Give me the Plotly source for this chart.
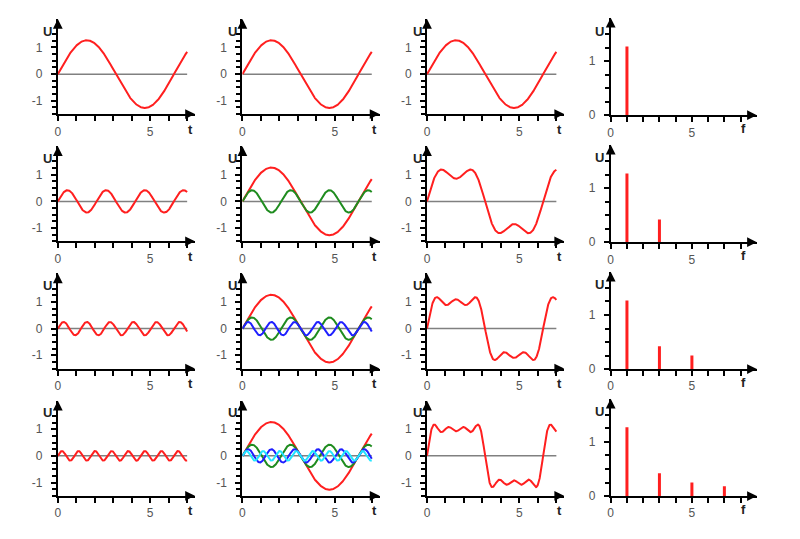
import numpy as np
import plotly.graph_objects as go

# ---- data ----
harmonics = [1, 3, 5, 7]                 # harmonic order of each component
amplitudes = [1.27, 0.42, 0.25, 0.18]    # amplitude of each component
component_colors = ["#ff1f1f", "#1f8c1f", "#1f1fff", "#22e5ff"]
t_end = 7.0
time_ticks = [0, 1, 2, 3, 4, 5, 6, 7]
time_major = [0, 5]
u_major = [-1, 0, 1]
u_minor = [-1.5, -1.25, -0.75, -0.5, -0.25, 0.25, 0.5, 0.75, 1.25, 1.5]
freq_ticks = [0, 1, 2, 3, 4, 5, 6, 7, 8]
freq_major = [0, 5]
spec_major = [0, 1]
spec_minor = [0.25, 0.5, 0.75, 1.25, 1.5]

W, H = 800, 539
HC = 531.0   # vertical layout reference (compensates observed render scaling)
T_RANGE = [0, 7.42]
U_RANGE = [-1.5, 2.07]
F_RANGE = [0, 9.0]
S_RANGE = [0, 1.8]

fig = go.Figure()
t = np.linspace(0, t_end, 600)
label_font = dict(family="Liberation Sans, Arial, sans-serif", size=12, color="#555555")
title_font = dict(family="Liberation Sans, Arial, sans-serif", size=13, color="#222222")

annotations = []

def py(y):
    return 1 - y / HC

def axis_common():
    return dict(showline=True, linecolor="black", linewidth=2, ticks="outside",
                ticklen=5, tickwidth=1.5, tickcolor="black", showgrid=False,
                zeroline=False, tickfont=label_font, fixedrange=True)

idx = 0
for r in range(4):
    for c in range(4):
        idx += 1
        xname = "x" if idx == 1 else f"x{idx}"
        yname = "y" if idx == 1 else f"y{idx}"
        xkey = "xaxis" if idx == 1 else f"xaxis{idx}"
        ykey = "yaxis" if idx == 1 else f"yaxis{idx}"
        if c < 3:
            sx, sy = 18.55, 26.6
            x0 = 55 + 185.3 * c
            y0 = 74 + 127 * r
            xr, yr = T_RANGE, U_RANGE
            left = x0
            right = x0 + (xr[1] - xr[0]) * sx
            top = y0 - yr[1] * sy
            bottom = y0 - yr[0] * sy
            fig.add_trace(go.Scatter(x=[0, t_end], y=[0, 0], mode="lines",
                                     line=dict(color="#808080", width=1.5),
                                     xaxis=xname, yaxis=yname, hoverinfo="skip"))
            if c == 0:
                k, a = harmonics[r], amplitudes[r]
                fig.add_trace(go.Scatter(x=t, y=a * np.sin(k * t), mode="lines",
                                         line=dict(color=component_colors[0], width=2),
                                         xaxis=xname, yaxis=yname))
            elif c == 1:
                for j in range(r + 1):
                    k, a = harmonics[j], amplitudes[j]
                    fig.add_trace(go.Scatter(x=t, y=a * np.sin(k * t), mode="lines",
                                             line=dict(color=component_colors[j], width=2),
                                             xaxis=xname, yaxis=yname))
            else:
                s = np.zeros_like(t)
                for j in range(r + 1):
                    s = s + amplitudes[j] * np.sin(harmonics[j] * t)
                fig.add_trace(go.Scatter(x=t, y=s, mode="lines",
                                         line=dict(color=component_colors[0], width=2),
                                         xaxis=xname, yaxis=yname))
            xa = axis_common()
            xa.update(domain=[left / W, right / W], range=xr, anchor=yname,
                      tickvals=time_major, ticktext=[str(v) for v in time_major],
                      minor=dict(tickvals=time_ticks, ticks="outside", ticklen=5,
                                 tickwidth=1.5, tickcolor="black"))
            ya = axis_common()
            ya.update(domain=[py(bottom), py(top)], range=yr, anchor=xname,
                      tickvals=u_major, ticktext=[str(v) for v in u_major],
                      ticklabelstandoff=6,
                      minor=dict(tickvals=u_minor, ticks="outside", ticklen=4,
                                 tickwidth=1.5, tickcolor="black"))
            xlab = "t"
            xlab_pos = (x0 + 133, y0 + 55)
            ulab_pos = (x0 - 10, y0 - 43)
        else:
            sx, sy = 16.3, 54.0
            x0 = 610
            y0 = 115 + 126.7 * r
            xr, yr = F_RANGE, S_RANGE
            left = x0
            right = x0 + (xr[1] - xr[0]) * sx
            top = y0 - yr[1] * sy
            bottom = y0
            xs, ys = [], []
            for j in range(r + 1):
                xs += [harmonics[j], harmonics[j], None]
                ys += [0, amplitudes[j], None]
            fig.add_trace(go.Scatter(x=xs, y=ys, mode="lines",
                                     line=dict(color=component_colors[0], width=3),
                                     xaxis=xname, yaxis=yname))
            xa = axis_common()
            xa.update(domain=[left / W, right / W], range=xr, anchor=yname,
                      tickvals=freq_major, ticktext=[str(v) for v in freq_major],
                      minor=dict(tickvals=freq_ticks, ticks="outside", ticklen=5,
                                 tickwidth=1.5, tickcolor="black"))
            ya = axis_common()
            ya.update(domain=[py(bottom), py(top)], range=yr, anchor=xname,
                      tickvals=spec_major, ticktext=[str(v) for v in spec_major],
                      ticklabelstandoff=6,
                      minor=dict(tickvals=spec_minor, ticks="outside", ticklen=4,
                                 tickwidth=1.5, tickcolor="black"))
            xlab = "f"
            xlab_pos = (x0 + 133, y0 + 13)
            ulab_pos = (x0 - 11, y0 - 84)
        fig.layout[xkey] = xa
        fig.layout[ykey] = ya
        annotations.append(dict(x=xr[1], y=yr[0], xref=xname, yref=yname, text="",
                                showarrow=True, ax=-9, ay=0, arrowhead=2, arrowsize=1.3,
                                arrowwidth=1.5, arrowcolor="black"))
        annotations.append(dict(x=0, y=yr[1], xref=xname, yref=yname, text="",
                                showarrow=True, ax=0, ay=9, arrowhead=2, arrowsize=1.3,
                                arrowwidth=1.5, arrowcolor="black"))
        annotations.append(dict(x=xlab_pos[0] / W, y=py(xlab_pos[1]), xref="paper",
                                yref="paper", text="<b>%s</b>" % xlab, showarrow=False,
                                font=title_font, xanchor="center", yanchor="middle"))
        annotations.append(dict(x=ulab_pos[0] / W, y=py(ulab_pos[1]), xref="paper",
                                yref="paper", text="<b>U</b>", showarrow=False,
                                font=title_font, xanchor="center", yanchor="middle"))

fig.update_layout(width=W, height=H, margin=dict(l=0, r=0, t=0, b=0),
                  paper_bgcolor="white", plot_bgcolor="white", showlegend=False,
                  annotations=annotations)
fig.write_html("out.html")
